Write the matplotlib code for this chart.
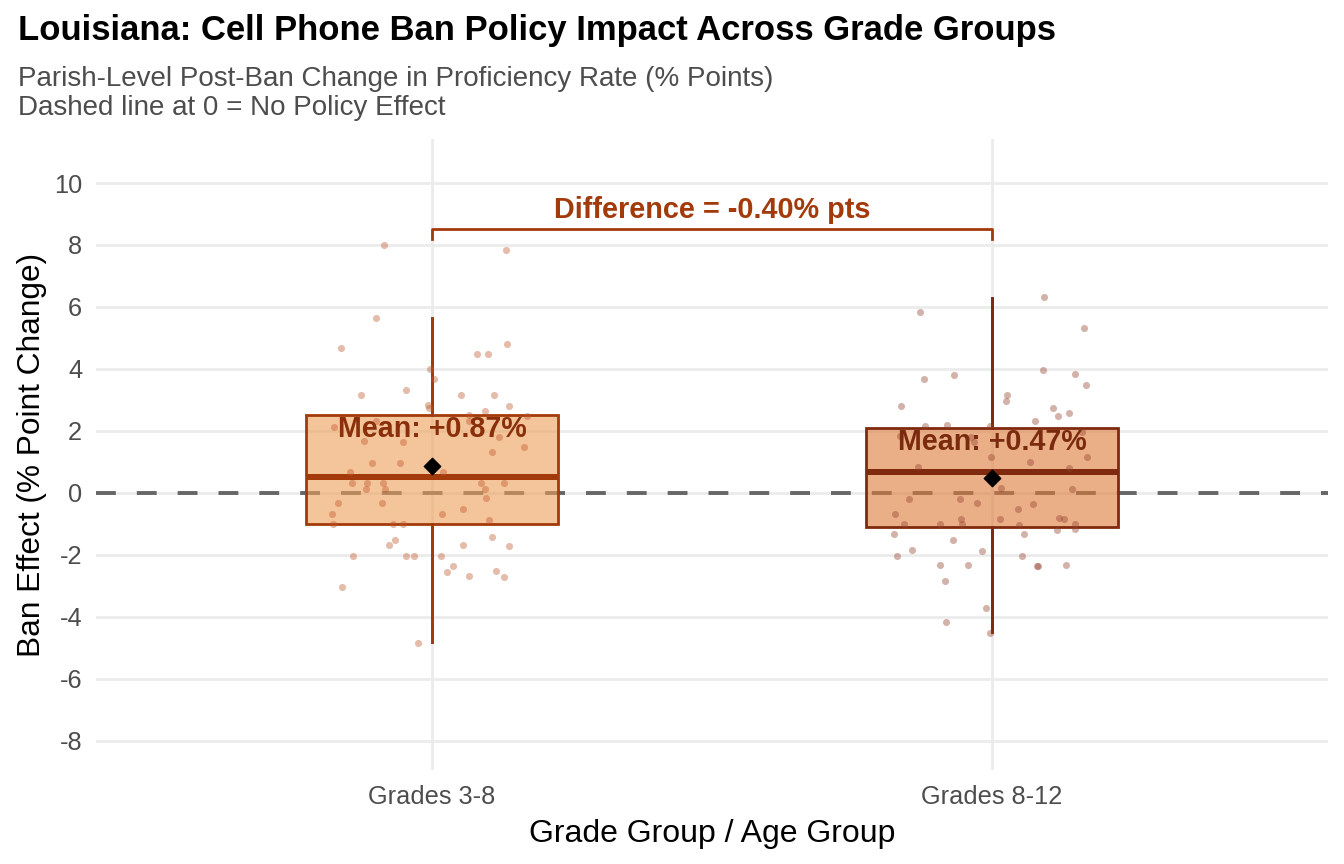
import matplotlib
matplotlib.use("Agg")
import matplotlib.pyplot as plt

plt.rcParams['font.family'] = ['Liberation Sans', 'DejaVu Sans']
plt.rcParams['axes.unicode_minus'] = False

# ---- data ----
groups = ["Grades 3-8", "Grades 8-12"]
means = [0.87, 0.47]
difference = -0.40
q1 = [-1.0, -1.1]
medians = [0.5, 0.68]
q3 = [2.5, 2.1]
whisk_lo = [-4.8, -4.5]
whisk_hi = [5.65, 6.3]

# parish-level values, with the horizontal jitter seen in the picture
g1_jitter = [-0.085, 0.133, -0.100, -0.162, 0.134, 0.080, 0.100, -0.004, 0.003, -0.126,
             -0.047, 0.051, 0.110, 0.137, -0.007, -0.005, 0.066, 0.094, 0.170, -0.100,
             -0.175, 0.066, 0.119, 0.164, -0.122, -0.052, 0.107, -0.107, -0.058, -0.147,
             0.020, -0.143, -0.116, -0.087, -0.118, -0.084, 0.088, 0.094, 0.128, 0.096,
             -0.168, -0.089, -0.178, 0.017, 0.055, 0.102, -0.176, -0.069, -0.052, 0.108,
             -0.066, -0.076, 0.055, 0.138, -0.141, -0.047, -0.032, 0.016, 0.037, 0.027,
             0.066, 0.114, 0.129, -0.160, -0.025]
g1_values = [7.99, 7.84, 5.65, 4.67, 4.82, 4.49, 4.49, 4.00, 3.66, 3.17,
             3.33, 3.15, 3.15, 2.82, 2.84, 2.73, 2.52, 2.65, 2.48, 2.32,
             2.14, 2.32, 1.82, 1.49, 1.66, 1.63, 1.33, 0.98, 0.98, 0.66,
             0.66, 0.31, 0.31, 0.31, 0.14, 0.14, 0.31, 0.14, 0.31, -0.17,
             -0.34, -0.34, -0.68, -0.68, -0.51, -0.86, -1.01, -1.01, -1.01, -1.41,
             -1.52, -1.68, -1.68, -1.70, -2.02, -2.02, -2.02, -2.02, -2.35, -2.54,
             -2.69, -2.52, -2.70, -3.02, -4.85]

g2_jitter = [0.092, -0.128, 0.164, 0.091, -0.122, -0.068, 0.148, 0.167, -0.162, 0.026,
             0.025, 0.109, 0.118, 0.138, 0.077, -0.119, -0.080, -0.004, -0.038, -0.032,
             -0.165, 0.161, 0.170, 0.067, -0.001, -0.132, 0.137, 0.016, 0.143, -0.149,
             -0.058, -0.027, 0.073, 0.047, -0.174, -0.055, 0.119, 0.128, 0.014, -0.157,
             -0.092, -0.054, 0.048, 0.149, 0.148, 0.116, -0.175, 0.058, -0.069, -0.142,
             -0.018, -0.169, 0.054, -0.093, -0.042, 0.080, 0.082, 0.133, -0.084, -0.010,
             -0.082, -0.004]
g2_values = [6.33, 5.83, 5.33, 3.98, 3.66, 3.82, 3.83, 3.48, 2.82, 3.16,
             2.98, 2.73, 2.48, 2.58, 2.33, 2.16, 2.18, 2.16, 1.82, 1.63,
             1.85, 1.98, 1.15, 1.00, 1.17, 0.84, 0.82, 0.17, 0.14, -0.18,
             -0.18, -0.34, -0.35, -0.52, -0.68, -0.84, -0.80, -0.84, -0.85, -0.99,
             -1.01, -1.01, -1.02, -1.01, -1.17, -1.19, -1.34, -1.34, -1.52, -1.84,
             -1.86, -2.02, -2.02, -2.34, -2.34, -2.35, -2.37, -2.33, -2.85, -3.70,
             -4.17, -4.53]

y_ticks = [-8, -6, -4, -2, 0, 2, 4, 6, 8, 10]

# ---- styling ----
box_fill = ["#ED9D57", "#DE7A39"]
box_edge = ["#A33A0B", "#7F2A0E"]
point_col = ["#C0552A", "#93402C"]
label_col = ["#8B2F0B", "#7A2A0E"]
accent = "#A33A0B"

fig = plt.figure(figsize=(13.44, 8.64), dpi=100)
ax = fig.add_axes([96 / 1344, 1 - 770 / 864, 1232 / 1344, 631 / 864])

positions = [1, 2]
ax.set_xlim(0.4, 2.6)
ax.set_ylim(-8.94, 11.42)

# grid
for y in y_ticks:
    ax.axhline(y, color="#EBEBEB", lw=2.0, zorder=0)
for x in positions:
    ax.axvline(x, color="#EBEBEB", lw=2.0, zorder=0)

# zero line
ax.axhline(0, color="#666666", lw=2.8, linestyle=(0, (5.1, 5.4)), zorder=1)

# boxes
for i, pos in enumerate(positions):
    stats = [dict(med=medians[i], q1=q1[i], q3=q3[i],
                  whislo=whisk_lo[i], whishi=whisk_hi[i])]
    ax.bxp(stats, positions=[pos], widths=0.45, patch_artist=True,
           showfliers=False, showcaps=False,
           boxprops=dict(facecolor=box_fill[i], edgecolor="none", alpha=0.6),
           medianprops=dict(color=box_edge[i], lw=4.2, solid_capstyle='butt'),
           whiskerprops=dict(color=box_edge[i], lw=2.0),
           zorder=2)
    # box outline fully opaque
    ax.bxp(stats, positions=[pos], widths=0.45, patch_artist=True,
           showfliers=False, showcaps=False,
           boxprops=dict(facecolor="none", edgecolor=box_edge[i], lw=2.0),
           medianprops=dict(color=box_edge[i], lw=4.2, solid_capstyle='butt'),
           whiskerprops=dict(color=box_edge[i], lw=2.0),
           zorder=3)

# jittered points
for i, (jit, vals) in enumerate([(g1_jitter, g1_values), (g2_jitter, g2_values)]):
    xs = [positions[i] + j for j in jit]
    ax.scatter(xs, vals, s=26, color=point_col[i], alpha=0.4, lw=0, zorder=4)

# means
ax.scatter(positions, means, marker="D", s=70, color="black", zorder=6)
for i, pos in enumerate(positions):
    ax.text(pos, means[i] + 1.18, f"Mean: {means[i]:+.2f}%", ha="center", va="center",
            fontsize=20.6, fontweight="bold", color=label_col[i], zorder=7)

# difference bracket
ax.plot([1, 1, 2, 2], [8.2, 8.5, 8.5, 8.2], color=accent, lw=2.0, zorder=5)
ax.text(1.5, 9.12, f"Difference = {difference:.2f}% pts", ha="center", va="center",
        fontsize=20.8, fontweight="bold", color=accent)

# axes
ax.set_xticks(positions)
ax.set_xticklabels(groups)
ax.set_yticks(y_ticks)
ax.tick_params(axis="both", length=0, labelsize=18.3, labelcolor="#4D4D4D")
ax.tick_params(axis="x", pad=11)
ax.tick_params(axis="y", pad=10)
for s in ax.spines.values():
    s.set_visible(False)

ax.set_xlabel("Grade Group / Age Group", fontsize=23, va="baseline")
ax.xaxis.set_label_coords(0.5, (770 - 842) / 631)
ax.set_ylabel("Ban Effect (% Point Change)", fontsize=22.8, va="center")
ax.yaxis.set_label_coords((32 - 96) / 1232, 0.5)

fig.text(18 / 1344, 1 - 40 / 864, "Louisiana: Cell Phone Ban Policy Impact Across Grade Groups",
         fontsize=24.9, fontweight="bold", va="baseline")
fig.text(18 / 1344, 1 - 86 / 864, "Parish-Level Post-Ban Change in Proficiency Rate (% Points)",
         fontsize=20, color="#4D4D4D", va="baseline")
fig.text(18 / 1344, 1 - 115 / 864, "Dashed line at 0 = No Policy Effect",
         fontsize=20, color="#4D4D4D", va="baseline")

fig.savefig("out.png", dpi=100)
